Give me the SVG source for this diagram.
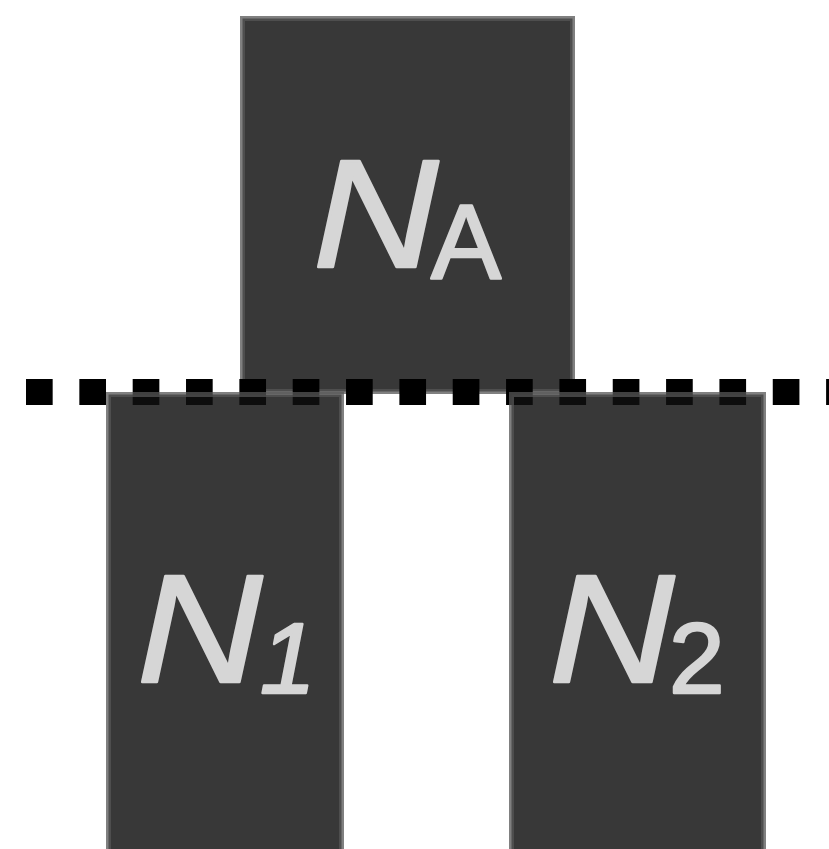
<svg xmlns="http://www.w3.org/2000/svg" width="829" height="849" viewBox="0 0 829 849">
  <style>
    .box { fill: rgb(16,16,16); fill-opacity: 0.83; stroke: rgb(85,85,85); stroke-opacity: 0.75; stroke-width: 5; }
    .lbl { font-family: "Liberation Sans", Arial, sans-serif; fill: #d6d6d6; stroke: #d6d6d6; stroke-width: 2.5; stroke-linejoin: round; }
    .big { font-style: italic; font-size: 155px; }
    .it { font-style: italic; }
    .div { stroke: #000; stroke-width: 26; stroke-dasharray: 26.67 26.67; fill: none; }
  </style>
  <rect x="0" y="0" width="829" height="849" fill="#ffffff"/>
  <g id="node-NA">
    <rect class="box" x="242.5" y="18.5" width="330" height="373"/>
    <text class="lbl big" transform="translate(313,267) scale(1.12,1)">N</text>
    <text class="lbl" x="431" y="278" font-size="105" stroke-width="1">A</text>
  </g>
  <g id="connectors">
    <line class="div" x1="26" y1="392" x2="860" y2="392"/>
  </g>
  <g id="node-N1">
    <rect class="box" x="108.5" y="394.5" width="233" height="470"/>
    <text class="lbl big" transform="translate(137,682) scale(1.12,1)">N</text>
    <text class="lbl it" x="260" y="693" font-size="100" stroke-width="4">1</text>
  </g>
  <g id="node-N2">
    <rect class="box" x="511.5" y="394.5" width="252" height="470"/>
    <text class="lbl big" transform="translate(549,682) scale(1.12,1)">N</text>
    <text class="lbl" x="669" y="693" font-size="100" stroke-width="1">2</text>
  </g>
</svg>
